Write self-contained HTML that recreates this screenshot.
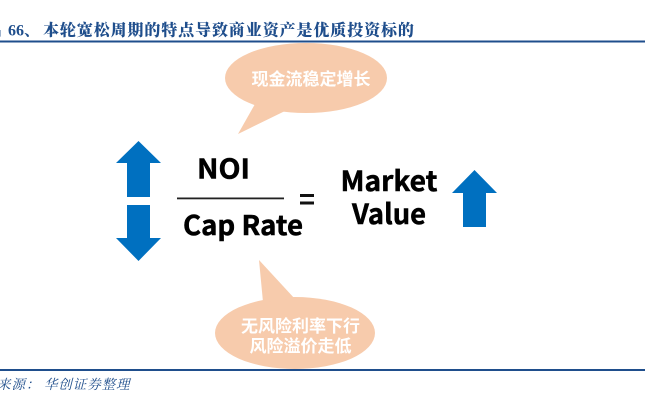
<!DOCTYPE html>
<html><head><meta charset="utf-8">
<style>
html,body{margin:0;padding:0;background:#fff}
svg{display:block}
</style></head>
<body>
<svg xmlns="http://www.w3.org/2000/svg" width="664" height="407" viewBox="0 0 664 407">
<rect width="664" height="407" fill="#fff"/>
<text x="-14" y="35.5" font-family="'Noto Serif CJK SC',serif" font-weight="700" font-size="16" fill="#1f4e8c">图</text>
<rect x="0" y="18" width="4" height="12" fill="#fff"/>
<text x="8" y="35.5" font-family="'Liberation Serif',serif" font-weight="700" font-size="16" fill="#1f4e8c">66</text>
<text x="24" y="35.5" font-family="'Noto Serif CJK SC',serif" font-weight="700" font-size="16" fill="#1f4e8c">、</text>
<text x="43" y="35.5" font-family="'Noto Serif CJK SC',serif" font-weight="900" font-size="16" letter-spacing="0.9" fill="#1f4e8c">本轮宽松周期的特点导致商业资产是优质投资标的</text>
<rect x="0" y="40.5" width="645" height="2" fill="#1f4e8c"/>
<rect x="0" y="369" width="645" height="2" fill="#1f4e8c"/>

<ellipse cx="306" cy="78" rx="81" ry="35" fill="#f7cbac"/>
<polygon points="255,104 238,134 285,111" fill="#f7cbac"/>
<text x="311" y="85" text-anchor="middle" font-family="'Noto Sans CJK SC',sans-serif" font-weight="700" font-size="17" fill="#fff">现金流稳定增长</text>

<ellipse cx="295" cy="333" rx="80" ry="36" fill="#f7cbac"/>
<polygon points="259,260 263,302 295,299" fill="#f7cbac"/>
<text x="300.5" y="332" text-anchor="middle" font-family="'Noto Sans CJK SC',sans-serif" font-weight="700" font-size="17" fill="#fff">无风险利率下行</text>
<text x="300.5" y="352" text-anchor="middle" font-family="'Noto Sans CJK SC',sans-serif" font-weight="700" font-size="17" fill="#fff">风险溢价走低</text>

<polygon points="138.5,141 161,163 150,163 150,197 127,197 127,163 116,163" fill="#0070c0"/>
<polygon points="138.5,261 161,238 150,238 150,205 127,205 127,238 116,238" fill="#0070c0"/>
<polygon points="474.5,170 497,193 486,193 486,227 463,227 463,193 452,193" fill="#0070c0"/>

<g font-family="'Noto Sans CJK SC','Liberation Sans',sans-serif" font-weight="700" fill="#000" stroke="#000" stroke-width="0.5">
<text x="223.5" y="178.5" text-anchor="middle" font-size="27" textLength="53" lengthAdjust="spacingAndGlyphs">NOI</text>
<text x="243" y="235" text-anchor="middle" font-size="27" textLength="120" lengthAdjust="spacingAndGlyphs">Cap Rate</text>
<text x="389" y="191" text-anchor="middle" font-size="28" textLength="97" lengthAdjust="spacingAndGlyphs">Market</text>
<text x="389" y="224" text-anchor="middle" font-size="28" textLength="74" lengthAdjust="spacingAndGlyphs">Value</text>
</g>
<rect x="177" y="197.5" width="107" height="1.8" fill="#222"/>
<rect x="300" y="194" width="14" height="3" fill="#111"/>
<rect x="300" y="201.5" width="14" height="3" fill="#111"/>

<text x="-3" y="389" font-family="'Noto Serif CJK SC',serif" font-style="italic" font-size="13.5" letter-spacing="1" fill="#1f4e8c">来源：</text>
<text x="44" y="389" font-family="'Noto Serif CJK SC',serif" font-style="italic" font-size="13.5" letter-spacing="0.9" fill="#1f4e8c">华创证券整理</text>
</svg>
</body></html>
